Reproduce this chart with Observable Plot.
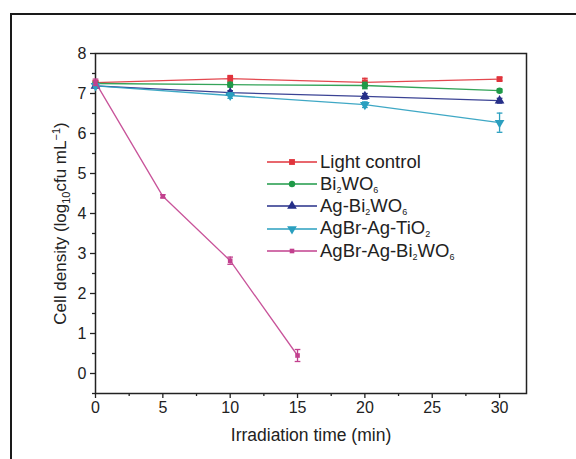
<!DOCTYPE html>
<html><head><meta charset="utf-8">
<script src="https://cdn.jsdelivr.net/npm/d3@7"></script>
<script src="https://cdn.jsdelivr.net/npm/@observablehq/plot@0.6"></script>
<style>
body{margin:0;background:#fff;}
#wrap{position:relative;width:576px;height:459px;overflow:hidden;font-family:"Liberation Sans",Arial,sans-serif;background:#fff;}
#border{position:absolute;left:10px;top:13px;width:620px;height:520px;border-left:2px solid #1a1a1a;border-top:2px solid #1a1a1a;pointer-events:none;}
#chart{position:absolute;left:0;top:0;}
#legend{position:absolute;left:266px;top:151px;font-size:18.5px;color:#222;}
#legend .row{display:flex;align-items:center;height:22.2px;white-space:nowrap;}
#legend span{line-height:1;}
#legend sub{font-size:9px;vertical-align:-3px;line-height:0;}
</style></head><body>
<div id="wrap"><div id="chart"></div><div id="border"></div><div id="legend"></div></div>
<script>
// ---- data ----
const timesSlow = [0, 10, 20, 30];
const timesFast = [0, 5, 10, 15];
const seriesNames = ["Light control", "Bi2WO6", "Ag-Bi2WO6", "AgBr-Ag-TiO2", "AgBr-Ag-Bi2WO6"];
const lightControl = [7.27, 7.37, 7.28, 7.36];
const lightControlErr = [0.05, 0.08, 0.1, 0.04];
const bi2wo6 = [7.25, 7.22, 7.20, 7.07];
const bi2wo6Err = [0.04, 0.06, 0.08, 0.04];
const agBi2wo6 = [7.19, 7.02, 6.93, 6.82];
const agBi2wo6Err = [0.04, 0.05, 0.07, 0.06];
const agbrAgTio2 = [7.19, 6.95, 6.72, 6.27];
const agbrAgTio2Err = [0.04, 0.07, 0.07, 0.24];
const agbrAgBi2wo6 = [7.28, 4.43, 2.82, 0.45];
const agbrAgBi2wo6Err = [0.08, 0.04, 0.09, 0.15];
const xTicks = [0, 5, 10, 15, 20, 25, 30];
const xMinorTicks = [2.5, 7.5, 12.5, 17.5, 22.5, 27.5];
const yTicks = [0, 1, 2, 3, 4, 5, 6, 7, 8];
const yMinorTicks = [-0.5, 0.5, 1.5, 2.5, 3.5, 4.5, 5.5, 6.5, 7.5];

const colors = ["#e0343c", "#1f9a48", "#262f88", "#2a9fbf", "#c2408e"];

const triangleDown = {
  draw(ctx, size) {
    const y = -Math.sqrt(size / (Math.sqrt(3) * 3));
    const s3 = Math.sqrt(3);
    ctx.moveTo(0, -y * 2);
    ctx.lineTo(-s3 * y, y);
    ctx.lineTo(s3 * y, y);
    ctx.closePath();
  }
};
const capSymbol = {
  draw(ctx, size) {
    const w = Math.sqrt(size) / 2;
    ctx.moveTo(-w, 0);
    ctx.lineTo(w, 0);
  }
};
const symbols = ["square", "circle", "triangle", triangleDown, "square"];
const radii = [3.3, 3.2, 3.6, 3.6, 2.6];

const seriesData = [
  [timesSlow, lightControl, lightControlErr],
  [timesSlow, bi2wo6, bi2wo6Err],
  [timesSlow, agBi2wo6, agBi2wo6Err],
  [timesSlow, agbrAgTio2, agbrAgTio2Err],
  [timesFast, agbrAgBi2wo6, agbrAgBi2wo6Err]
];

const rows = seriesData.map(([ts, vs, es], i) =>
  ts.map((t, j) => ({series: seriesNames[i], idx: i, t, v: vs[j], e: es[j]})));

const marks = [];
rows.forEach((data, i) => {
  marks.push(Plot.line(data, {x: "t", y: "v", stroke: colors[i], strokeWidth: 1.3, strokeOpacity: 0.9}));
  marks.push(Plot.ruleX(data, {x: "t", y1: d => d.v - d.e, y2: d => d.v + d.e, stroke: colors[i], strokeWidth: 1.3}));
  marks.push(Plot.dot(data, {x: "t", y: d => d.v - d.e, symbol: capSymbol, r: 3.2, stroke: colors[i], strokeWidth: 1.3}));
  marks.push(Plot.dot(data, {x: "t", y: d => d.v + d.e, symbol: capSymbol, r: 3.2, stroke: colors[i], strokeWidth: 1.3}));
  marks.push(Plot.dot(data, {x: "t", y: "v", symbol: symbols[i], r: radii[i], fill: colors[i], stroke: "none"}));
});

const chart = Plot.plot({
  width: 576,
  height: 459,
  marginLeft: 95,
  marginRight: 50,
  marginTop: 53,
  marginBottom: 66,
  style: {fontFamily: "'Liberation Sans', Arial, sans-serif", fontSize: "16px", color: "#222", background: "transparent"},
  x: {domain: [0, 32]},
  y: {domain: [-0.5, 8]},
  marks: [
    Plot.axisX(xTicks, {tickSize: 5, tickPadding: 3, label: "Irradiation time (min)", labelAnchor: "center", labelArrow: "none", labelOffset: 47, fontSize: 16, stroke: "#222", strokeWidth: 1.3}),
    Plot.axisX(xMinorTicks, {tickSize: 3, tickFormat: () => "", label: null, stroke: "#222", strokeWidth: 1.3}),
    Plot.axisY(yTicks, {tickSize: 5, tickPadding: 4, label: "Cell density (log10cfu mL-1)", labelAnchor: "center", labelArrow: "none", labelOffset: 42, fontSize: 16, stroke: "#222", strokeWidth: 1.3}),
    Plot.axisY(yMinorTicks, {tickSize: 3, tickFormat: () => "", label: null, stroke: "#222", strokeWidth: 1.3}),
    Plot.frame({stroke: "#222", strokeWidth: 1.5}),
    ...marks
  ]
});
document.getElementById("chart").appendChild(chart);

// label styling: sub/superscripts, size
d3.select(chart).selectAll("text").each(function() {
  const t = this.textContent;
  if (t.startsWith("Cell density")) {
    this.setAttribute("font-size", "17");
    this.innerHTML = 'Cell density (log<tspan dy="4" font-size="11">10</tspan><tspan dy="-4">cfu mL</tspan><tspan dy="-6" font-size="11">\u22121</tspan><tspan dy="6">)</tspan>';
  } else if (t.startsWith("Irradiation")) {
    this.setAttribute("font-size", "17.5");
    this.textContent = "Irradiation time (min)";
  }
});

// legend
const legend = d3.select("#legend");
seriesNames.forEach((name, i) => {
  const row = legend.append("div").attr("class", "row");
  const svg = row.append("svg").attr("width", 52).attr("height", 14).style("margin-right", "2px");
  svg.append("line").attr("x1", 1).attr("x2", 51).attr("y1", 7).attr("y2", 7)
    .attr("stroke", colors[i]).attr("stroke-width", 1.6);
  const sym = typeof symbols[i] === "string"
    ? {square: d3.symbolSquare, circle: d3.symbolCircle, triangle: d3.symbolTriangle}[symbols[i]]
    : symbols[i];
  svg.append("path").attr("transform", "translate(26,7)")
    .attr("d", d3.symbol(sym, Math.PI * radii[i] * radii[i])()).attr("fill", colors[i]);
  row.append("span").html(name.replace(/(\d)/g, "<sub>$1</sub>"));
});
</script>
</body></html>
